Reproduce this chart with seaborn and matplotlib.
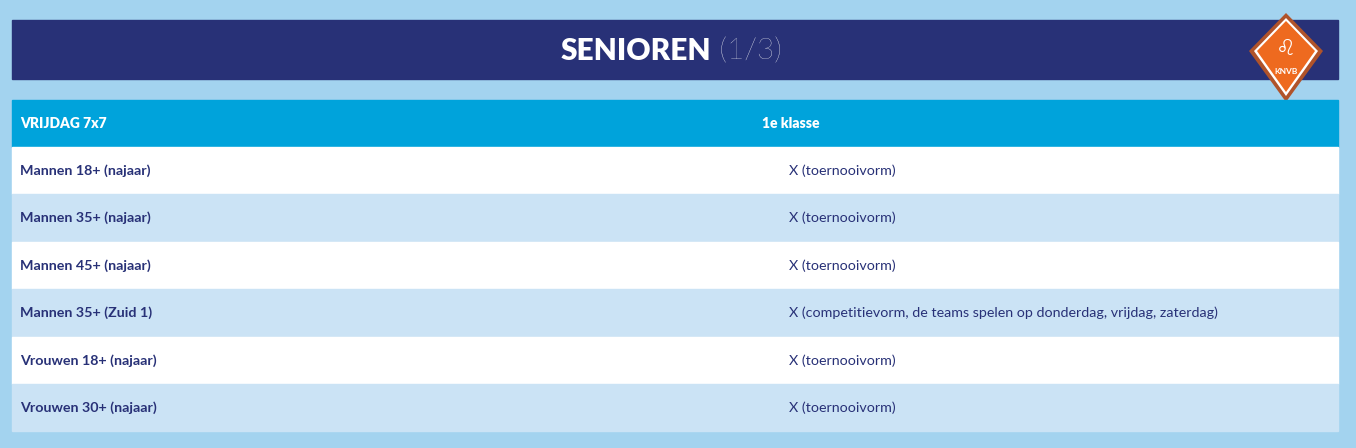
import matplotlib
matplotlib.use("Agg")
import matplotlib.pyplot as plt
import seaborn as sns
from matplotlib.patches import Rectangle, Polygon

title_bold = "SENIOREN"
title_light = " (1/3)"
header = ["VRIJDAG 7x7", "1e klasse"]
categories = ["Mannen 18+ (najaar)", "Mannen 35+ (najaar)", "Mannen 45+ (najaar)",
              "Mannen 35+ (Zuid 1)", "Vrouwen 18+ (najaar)", "Vrouwen 30+ (najaar)"]
values = ["X (toernooivorm)", "X (toernooivorm)", "X (toernooivorm)",
          "X (competitievorm, de teams spelen op donderdag, vrijdag, zaterdag)",
          "X (toernooivorm)", "X (toernooivorm)"]

sns.set_theme(style="white")
plt.rcParams['font.family'] = ['Lato', 'DejaVu Sans']

W, H = 1356, 448
fig = plt.figure(figsize=(W/100, H/100), dpi=100, facecolor="#a3d3ef")
ax = fig.add_axes([0, 0, 1, 1])
ax.set_xlim(0, W); ax.set_ylim(H, 0); ax.axis("off")
ax.set_facecolor("#a3d3ef")

navy = "#283177"
ax.add_patch(Rectangle((12, 20), 1326, 59, color=navy))
ax.text(711, 51, title_bold, color="white", fontsize=21.5, fontweight="heavy", ha="right", va="center")
ax.text(711, 51, title_light, color="white", fontsize=21.5, fontweight="light", ha="left", va="center")

# logo
cx, cy = 1286, 57
outer = [(cx, cy-44), (cx+37, cy-6), (cx, cy+45), (cx-37, cy-6)]
ax.add_patch(Polygon(outer, closed=True, facecolor="#b0532a", edgecolor="none"))
inner = [(cx, cy-39), (cx+32, cy-6), (cx, cy+39), (cx-32, cy-6)]
ax.add_patch(Polygon(inner, closed=True, facecolor="white", edgecolor="none"))
inner2 = [(cx, cy-36), (cx+29, cy-6), (cx, cy+35), (cx-29, cy-6)]
ax.add_patch(Polygon(inner2, closed=True, facecolor="#ee6a1f", edgecolor="none"))
ax.text(cx, cy-8, "♌", color="white", fontsize=16, ha="center", va="center", family=['DejaVu Sans'])
ax.text(cx, cy+14, "KNVB", color="white", fontsize=6, fontweight="bold", ha="center", va="center")

# table header
ax.add_patch(Rectangle((12, 100), 1326, 47, color="#00a3db"))
ax.text(20, 124, header[0], color="white", fontsize=10, fontweight="heavy", va="center")
ax.text(762, 124, header[1], color="white", fontsize=10, fontweight="heavy", va="center")

rowh = 47.4
for i, (c, v) in enumerate(zip(categories, values)):
    y0 = 147 + i*rowh
    ax.add_patch(Rectangle((12, y0), 1326, rowh, color="white" if i % 2 == 0 else "#cbe3f5"))
    ax.text(20, y0+rowh/2, c, color=navy, fontsize=10.3, fontweight="bold", va="center")
    ax.text(789, y0+rowh/2, v, color=navy, fontsize=10.3, va="center")

fig.savefig("out.png", dpi=100, facecolor=fig.get_facecolor())
